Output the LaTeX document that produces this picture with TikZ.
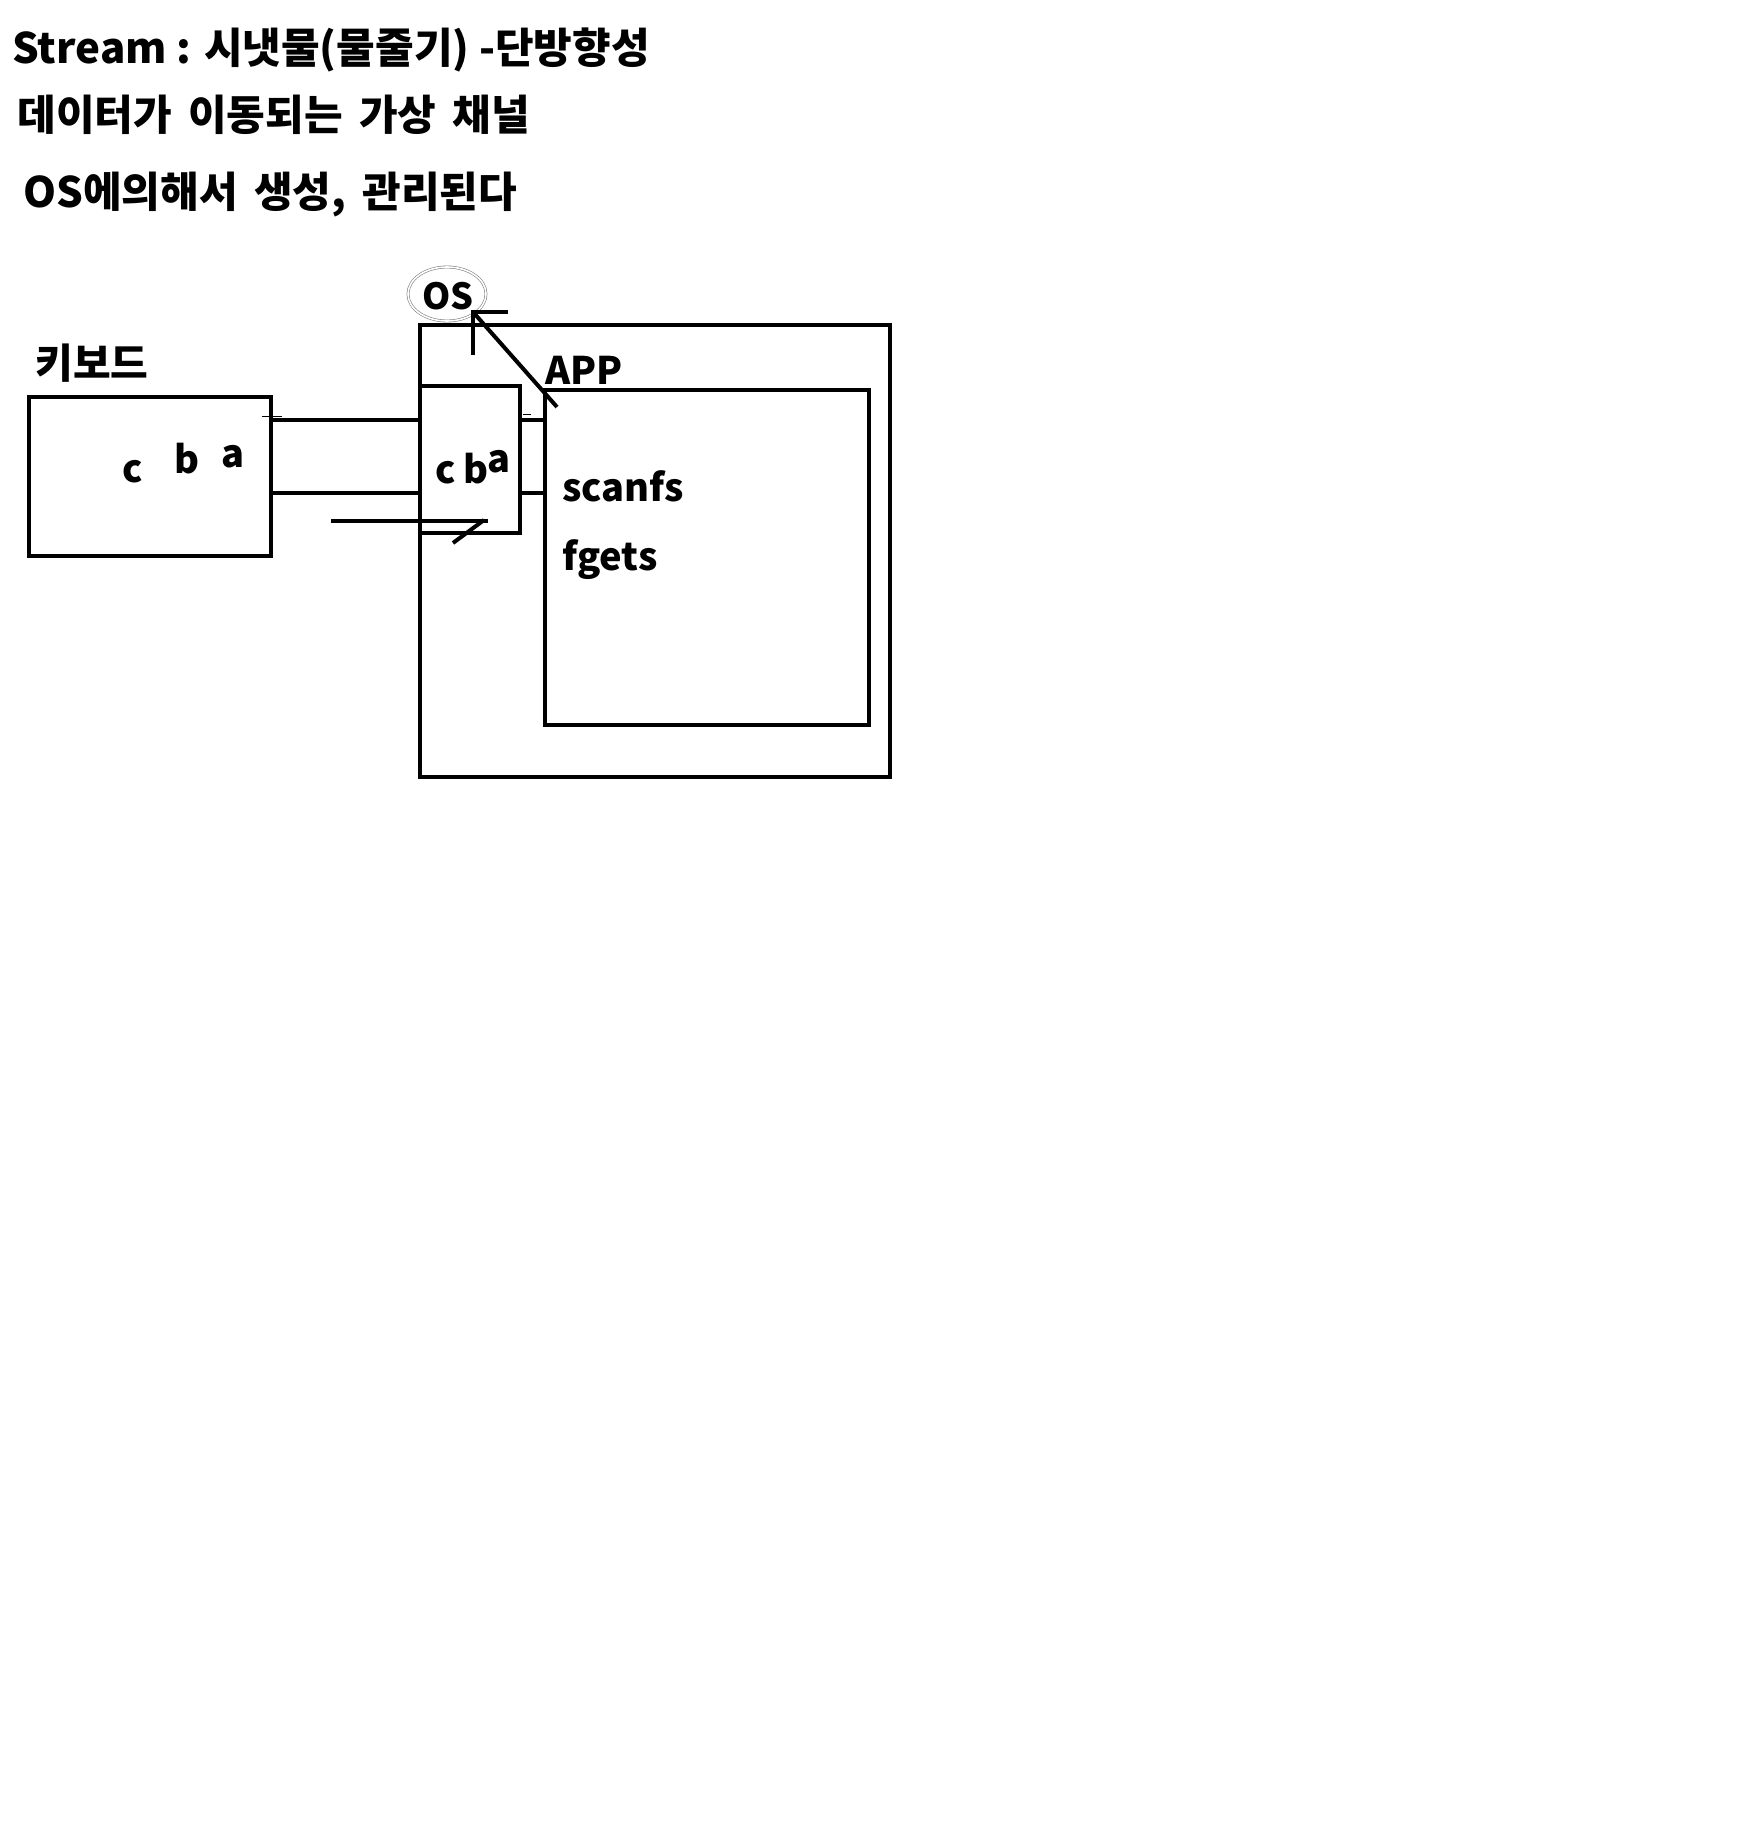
\documentclass[tikz,border=0pt]{standalone}
\usepackage{fontspec}
\setmainfont{Noto Sans CJK KR}
\newfontfamily\headfont{Noto Sans CJK KR}[WordSpace=1.7]
\usetikzlibrary{shapes.geometric}

\begin{document}
\begin{tikzpicture}[
    x=0.5pt, y=-0.5pt,
    box/.style={rectangle, draw, line width=2pt, inner sep=0pt},
    wire/.style={line width=2pt},
    hair/.style={line width=0.5pt},
    txt/.style={anchor=base west, inner sep=0pt, font=\fontsize{19pt}{22pt}\selectfont\bfseries},
    heading/.style={txt, font=\headfont\fontsize{21pt}{24pt}\selectfont\bfseries}
]
\useasboundingbox (0,0) rectangle (1758,1824);

% heading lines
\node[heading, font=\fontsize{21pt}{24pt}\selectfont\bfseries] (head1) at (12,64) {Stream : 시냇물(물줄기) -단방향성};
\node[heading] (head2) at (17,131) {데이터가 이동되는 가상 채널};
\node[heading] (head3) at (23,208) {OS에의해서 생성, 관리된다};

% boxes
\node[box, minimum width=121pt, minimum height=79.5pt] (kbd) at (150,476.5) {};
\node[box, minimum width=235pt, minimum height=226pt] (os) at (655,551) {};
\node[box, minimum width=162pt, minimum height=167.5pt] (app) at (707,557.5) {};
\node[box, minimum width=50pt, minimum height=73.5pt] (buf) at (470,459.5) {};

% labels
\node[txt, font=\fontsize{20.5pt}{24pt}\selectfont\bfseries] (kbdlbl) at (35,379) {키보드};
\node[txt, font=\fontsize{18pt}{21pt}\selectfont\bfseries] (oslbl) at (422,310) {OS};
\node[draw=gray, ellipse, line width=0.3pt, double=white, double distance=0.8pt,
      minimum width=39pt, minimum height=27pt] (osring) at (447,294) {};
\node[txt] (applbl) at (545,385) {APP};
\node[txt] (scan) at (562,501) {scanfs};
\node[txt] (fget) at (562,570) {fgets};

% characters in the keyboard and in the buffer
\node[txt] (kc) at (122,482) {c};
\node[txt] (kb) at (174,473) {b};
\node[txt] (ka) at (221,467) {a};
\node[txt] (bc) at (435,483) {c};
\node[txt] (bb) at (463,483) {b};
\node[txt] (ba) at (487,472) {a};

% stream pipes
\coordinate (pipeTop) at (0,420);
\coordinate (pipeBot) at (0,493);
\draw[wire] (kbd.east |- pipeTop) -- (buf.west |- pipeTop);
\draw[wire] (kbd.east |- pipeBot) -- (buf.west |- pipeBot);
\draw[wire] (buf.east |- pipeTop) -- (app.west |- pipeTop);
\draw[wire] (buf.east |- pipeBot) -- (app.west |- pipeBot);
\draw[hair] (262,416) -- (282,416);
\draw[hair] (523,414) -- (531,414);

% back line with slash
\coordinate (backL) at (331,521);
\coordinate (backR) at (488,521);
\coordinate (slashA) at (453,543);
\coordinate (slashB) at (484,520);
\draw[wire] (backL) -- (backR);
\draw[wire] (slashA) -- (slashB);

% arrow from APP up to OS
\coordinate (osTip) at (473,312);
\coordinate (appTail) at (557,407);
\draw[wire] (appTail) -- (osTip);
\draw[wire] ([yshift=-21.5pt]osTip) -- (osTip) -- ([xshift=17.5pt]osTip);
\end{tikzpicture}
\end{document}
